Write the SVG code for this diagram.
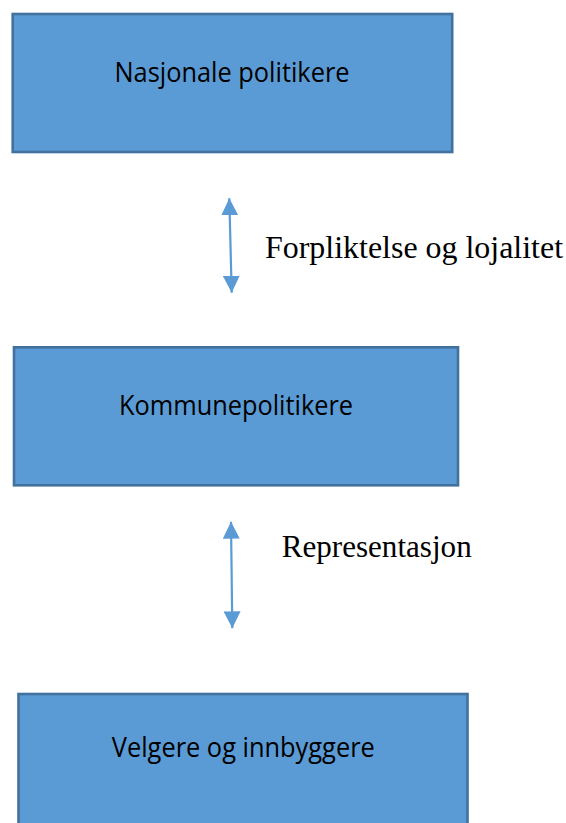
<svg xmlns="http://www.w3.org/2000/svg" width="566" height="823" viewBox="0 0 566 823">
<defs>
<style>
.box{fill:#5B9BD5;stroke:#41719C;stroke-width:2.6}
.lbl{font-family:"Open Sans","Liberation Sans",sans-serif;font-size:27px;fill:#000;text-anchor:middle}
.rel{font-family:"Liberation Serif","Times New Roman",serif;font-size:32px;fill:#000}
.conn{stroke:#5B9BD5;stroke-width:2.2;fill:none;marker-start:url(#ah);marker-end:url(#ah)}
</style>
<marker id="ah" markerUnits="userSpaceOnUse" markerWidth="17" markerHeight="17" viewBox="0 0 16 16" refX="16" refY="8" orient="auto-start-reverse">
<path d="M0,0 L16,8 L0,16 z" fill="#5B9BD5"/>
</marker>
</defs>
<rect width="566" height="823" fill="#fff"/>
<g id="nasjonale">
<rect class="box" x="12.7" y="14" width="439.5" height="138"/>
<text class="lbl" x="232" y="81.7" textLength="235" lengthAdjust="spacingAndGlyphs">Nasjonale politikere</text>
</g>
<g id="kommune">
<rect class="box" x="14" y="347.3" width="444" height="138"/>
<text class="lbl" x="236" y="415" textLength="234" lengthAdjust="spacingAndGlyphs">Kommunepolitikere</text>
</g>
<g id="velgere">
<rect class="box" x="18.5" y="694" width="449" height="140"/>
<text class="lbl" x="243.3" y="756.7" textLength="263" lengthAdjust="spacingAndGlyphs">Velgere og innbyggere</text>
</g>
<g id="connectors">
<line class="conn" x1="229.3" y1="198.3" x2="231.7" y2="292.7"/>
<line class="conn" x1="231" y1="521.7" x2="232.3" y2="628.3"/>
<text class="rel" x="265" y="258.3" textLength="298" lengthAdjust="spacingAndGlyphs">Forpliktelse og lojalitet</text>
<text class="rel" x="281.7" y="557.3" textLength="190" lengthAdjust="spacingAndGlyphs">Representasjon</text>
</g>
</svg>
